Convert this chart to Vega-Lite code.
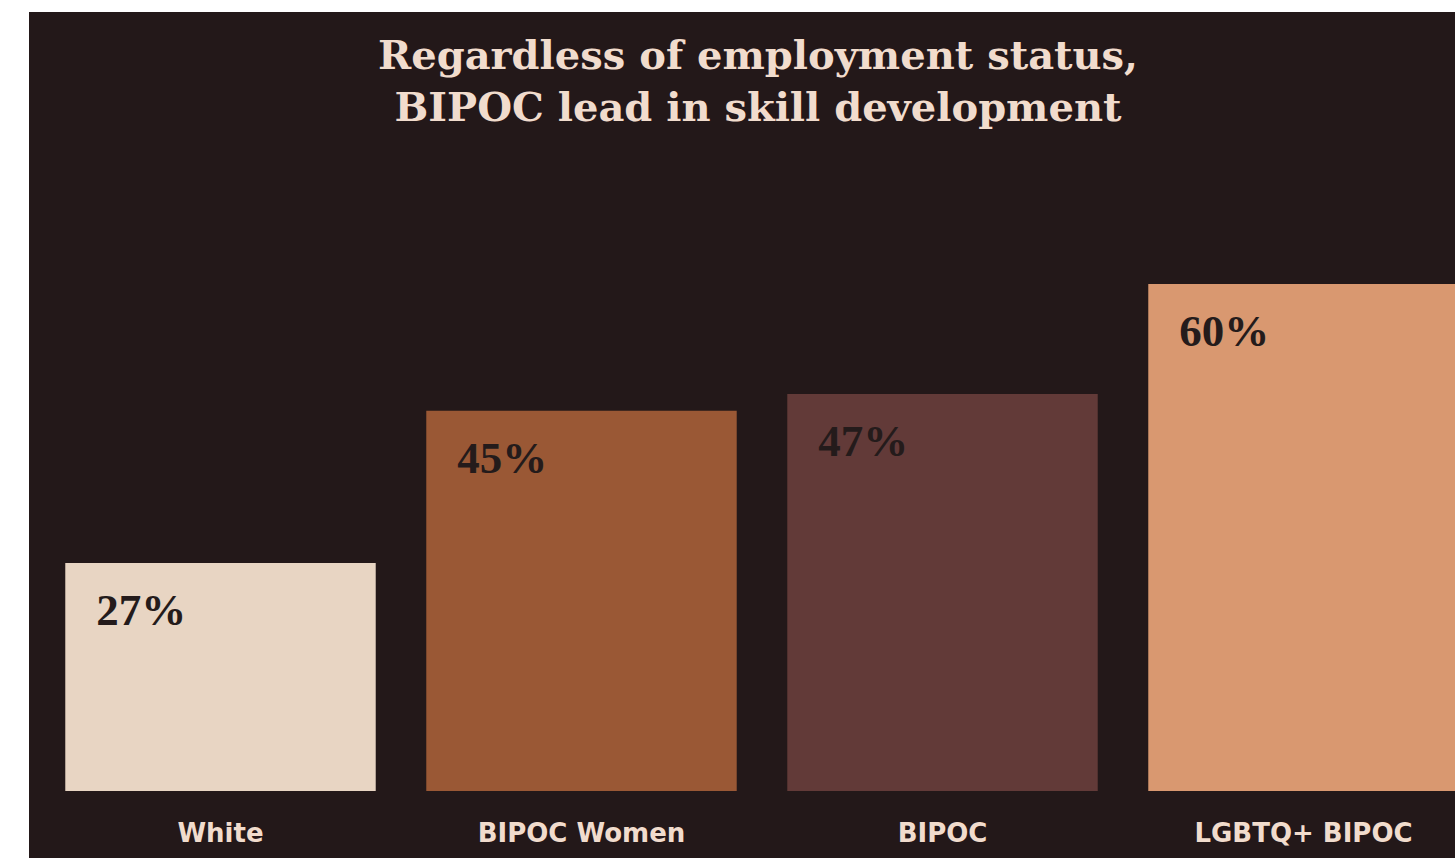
{
  "$schema": "https://vega.github.io/schema/vega-lite/v6.json",
  "width": 1426,
  "height": 846,
  "autosize": {"type": "none"},
  "padding": {"left": 29, "top": 12, "right": 0, "bottom": 0},
  "background": "#ffffff",
  "config": {
    "view": {"fill": "#231819", "stroke": null}
  },
  "title": {
    "text": ["Regardless of employment status,", "BIPOC lead in skill development"],
    "font": "DejaVu Serif",
    "fontWeight": "bold",
    "fontSize": 40,
    "lineHeight": 52,
    "color": "#f1dccd",
    "anchor": "middle",
    "frame": "group",
    "baseline": "top",
    "offset": -117,
    "dx": 16
  },
  "data": {
    "values": [
      {"group": "White", "value": 27, "label": "27%"},
      {"group": "BIPOC Women", "value": 45, "label": "45%"},
      {"group": "BIPOC", "value": 47, "label": "47%"},
      {"group": "LGBTQ+ BIPOC", "value": 60, "label": "60%"}
    ]
  },
  "encoding": {
    "x": {
      "field": "group",
      "type": "nominal",
      "sort": null,
      "scale": {"range": [11, 1455], "paddingInner": 0.14, "paddingOuter": 0.07},
      "axis": {
        "title": null,
        "domain": false,
        "ticks": false,
        "labelAngle": 0,
        "labelLimit": 0,
        "labelFont": "DejaVu Sans",
        "labelFontWeight": "bold",
        "labelFontSize": 26,
        "labelColor": "#f1dccd",
        "labelBaseline": "middle",
        "labelPadding": 0,
        "offset": -25
      }
    },
    "y": {
      "field": "value",
      "type": "quantitative",
      "scale": {"domain": [0, 92.2], "range": [779, 0]},
      "axis": null
    }
  },
  "layer": [
    {
      "mark": {"type": "bar"},
      "encoding": {
        "color": {
          "field": "group",
          "type": "nominal",
          "sort": null,
          "scale": {
            "domain": ["White", "BIPOC Women", "BIPOC", "LGBTQ+ BIPOC"],
            "range": ["#e8d5c3", "#9a5835", "#623a38", "#d99870"]
          },
          "legend": null
        }
      }
    },
    {
      "mark": {
        "type": "text",
        "align": "left",
        "baseline": "top",
        "dx": 31,
        "dy": 26,
        "font": "Liberation Serif",
        "fontWeight": "bold",
        "fontSize": 45,
        "color": "#241b1b"
      },
      "encoding": {
        "x": {"field": "group", "type": "nominal", "sort": null, "bandPosition": 0},
        "text": {"field": "label"}
      }
    }
  ]
}
